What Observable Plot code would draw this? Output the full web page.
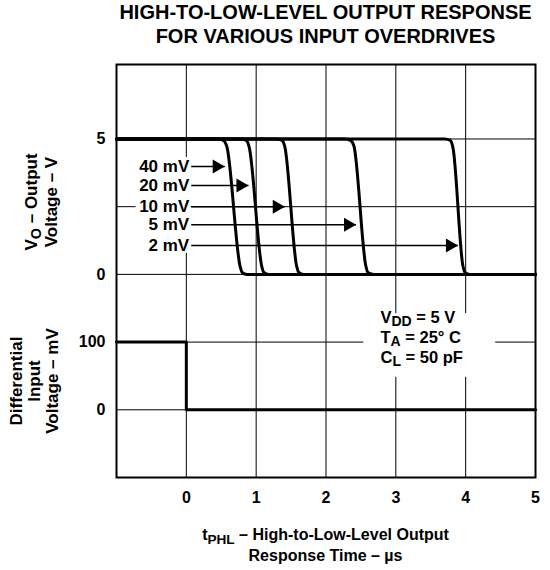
<!DOCTYPE html>
<html>
<head>
<meta charset="utf-8">
<script src="https://cdn.jsdelivr.net/npm/d3@7"></script>
<script src="https://cdn.jsdelivr.net/npm/@observablehq/plot@0.6"></script>
<style>
  html, body { margin: 0; padding: 0; background: #fff; }
  body { width: 550px; height: 570px; position: relative; overflow: hidden;
         font-family: "Liberation Sans", Arial, Helvetica, sans-serif; font-weight: bold; color: #000; }
  #title { position: absolute; left: 116px; width: 419px; top: 1px; text-align: center;
           font-size: 20px; line-height: 23.5px; white-space: nowrap; }
  #chart { position: absolute; left: 0; top: 49px; }
  #chart svg { display: block; }
  #xlabel { position: absolute; left: 116px; width: 419px; top: 525px; text-align: center;
            font-size: 16px; line-height: 20px; white-space: nowrap; }
  .ylab { position: absolute; transform: translate(-50%, -50%) rotate(-90deg);
          white-space: nowrap; text-align: center; font-size: 17px; }
  .sub { font-size: 0.85em; position: relative; top: 0.3em; }
</style>
</head>
<body>
<div id="title">HIGH-TO-LOW-LEVEL OUTPUT RESPONSE<br>FOR VARIOUS INPUT OVERDRIVES</div>
<div id="chart"></div>
<div id="xlabel">t<span class="sub">PHL</span> – High-to-Low-Level Output<br>Response Time – µs</div>
<div class="ylab" style="left:42px; top:202px; line-height:20px;">V<span class="sub">O</span> – Output<br>Voltage – V</div>
<div class="ylab" style="left:35px; top:381px; line-height:18px;">Differential<br>Input<br>Voltage – mV</div>
<script>
// ---- data ----
const xTicks = [0, 1, 2, 3, 4, 5];
const tGrid = [0, 1, 2, 3, 4];
const vTicks = [0, 5];
const mvTicks = [0, 100];
const vGrid = [0, 2.5, 5];
const mvGrid = [0, 100];

// output response curves (time in µs, output voltage in V)
const t40 = [-1, 0.45, 0.53, 0.58, 0.77, 0.80, 0.87, 5];
const v40 = [5, 5, 4.95, 4.72, 0.30, 0.07, 0, 0];
const t20 = [-1, 0.78, 0.86, 0.90, 1.08, 1.11, 1.18, 5];
const v20 = [5, 5, 4.95, 4.70, 0.30, 0.07, 0, 0];
const t10 = [-1, 1.29, 1.37, 1.41, 1.58, 1.61, 1.68, 5];
const v10 = [5, 5, 4.95, 4.72, 0.30, 0.07, 0, 0];
const t5 = [-1, 2.27, 2.35, 2.40, 2.57, 2.60, 2.69, 5];
const v5 = [5, 5, 4.95, 4.74, 0.32, 0.07, 0, 0];
const t2 = [-1, 3.70, 3.78, 3.82, 3.96, 3.99, 4.06, 5];
const v2 = [5, 5, 4.95, 4.65, 0.32, 0.07, 0, 0];

// differential input step (time in µs, mV)
const inputT = [-1, 0, 0, 5];
const inputMV = [100, 100, 0, 0];

// overdrive labels with arrows
const overdriveLabels = ["40 mV", "20 mV", "10 mV", "5 mV", "2 mV"];
const arrowLevelV = [3.98, 3.28, 2.5, 1.83, 1.07];
const arrowTipT = [0.55, 0.89, 1.41, 2.43, 3.89];
const arrowTailT = 0.07;
// blank area behind the overdrive labels (µs, V)
const labelBoxT = [-0.72, 0.07];
const labelBoxV = [0.78, 4.32];

// test conditions
const condLines = ["V_{DD} = 5 V", "T_{A} = 25° C", "C_{L} = 50 pF"];
const condMV = [136, 107, 77];
const condT = 2.78;
// blank area behind the conditions (µs, mV)
const condBoxT = [2.54, 4.43];
const condBoxMV = [48, 142];

// ---- two stacked panels share one vertical scale ----
const yOfV = v => 3 + v / 2.5;      // top panel: 0..5 V
const yOfMV = mv => 1 + mv / 100;   // bottom panel: 0..100 mV

const curves = [
  {id: "40 mV", t: t40, v: v40},
  {id: "20 mV", t: t20, v: v20},
  {id: "10 mV", t: t10, v: v10},
  {id: "5 mV", t: t5, v: v5},
  {id: "2 mV", t: t2, v: v2}
];
const curveRows = curves.flatMap(c => c.t.map((t, i) => ({id: c.id, t, y: yOfV(c.v[i])})));
const inputRows = inputT.map((t, i) => ({t, y: yOfMV(inputMV[i])}));
const arrowRows = overdriveLabels.map((label, i) => ({label, tip: arrowTipT[i], tail: arrowTailT, y: yOfV(arrowLevelV[i])}));
const condRows = condLines.map((s, i) => ({s, t: condT, y: yOfMV(condMV[i])}));
const blankRows = [
  {x1: labelBoxT[0], x2: labelBoxT[1], y1: yOfV(labelBoxV[0]), y2: yOfV(labelBoxV[1])},
  {x1: condBoxT[0], x2: condBoxT[1], y1: yOfMV(condBoxMV[0]), y2: yOfMV(condBoxMV[1])}
];

const yTickMap = new Map([
  ...vTicks.map(v => [yOfV(v), String(v)]),
  ...mvTicks.map(m => [yOfMV(m), String(m)])
]);

const font = '"Liberation Sans", Arial, Helvetica, sans-serif';

const chart = Plot.plot({
  width: 550,
  height: 460,
  marginLeft: 116,
  marginRight: 15,
  marginTop: 15,
  marginBottom: 32,
  x: {domain: [-1, 5], axis: null},
  y: {domain: [0, 6.1], axis: null},
  style: {fontFamily: font, fontSize: "16px", fontWeight: "bold", color: "black", background: "white"},
  marks: [
    Plot.ruleX(tGrid, {stroke: "black", strokeWidth: 1}),
    Plot.ruleY([...vGrid.map(yOfV), ...mvGrid.map(yOfMV)], {stroke: "black", strokeWidth: 1}),
    Plot.rect(blankRows, {x1: "x1", x2: "x2", y1: "y1", y2: "y2", fill: "white"}),
    Plot.text(condRows, {x: "t", y: "y", text: "s", textAnchor: "start", fill: "black", fontSize: 16.5}),
    Plot.line(inputRows, {x: "t", y: "y", stroke: "black", strokeWidth: 3}),
    Plot.line(curveRows, {x: "t", y: "y", z: "id", stroke: "black", strokeWidth: 3, curve: "monotone-x", strokeLinejoin: "round"}),
    Plot.link(arrowRows, {x1: "tail", x2: "tip", y1: "y", y2: "y", stroke: "black", strokeWidth: 1.5}),
    Plot.dot(arrowRows, {x: "tip", y: "y", symbol: "triangle", rotate: 90, r: 5.2, fill: "black", stroke: "none", dx: -8}),
    Plot.text(arrowRows, {x: "tail", y: "y", text: "label", textAnchor: "end", dx: -2, fill: "black", fontSize: 17}),
    Plot.axisX(xTicks, {tickSize: 0, tickPadding: 14, fontSize: 16, fontWeight: "bold", label: null}),
    Plot.axisY([...yTickMap.keys()], {tickSize: 0, tickPadding: 11, fontSize: 16, fontWeight: "bold", label: null, tickFormat: d => yTickMap.get(d)}),
    Plot.frame({stroke: "black", strokeWidth: 2})
  ]
});

// subscripts: "_{...}" -> lowered tspan
d3.select(chart).selectAll("text").each(function () {
  const s = this.textContent;
  if (!s.includes("_{")) return;
  const parts = s.split(/(_\{[^}]*\})/).filter(p => p.length);
  const el = d3.select(this);
  el.text("");
  let prevSub = false;
  for (const p of parts) {
    const m = p.match(/^_\{(.*)\}$/);
    const ts = el.append("tspan");
    if (m) {
      ts.text(m[1]).attr("dy", "0.22em").attr("font-size", "0.85em");
      prevSub = true;
    } else {
      ts.text(p);
      if (prevSub) ts.attr("dy", "-0.187em");
      prevSub = false;
    }
  }
});

document.getElementById("chart").appendChild(chart);
</script>
</body>
</html>
